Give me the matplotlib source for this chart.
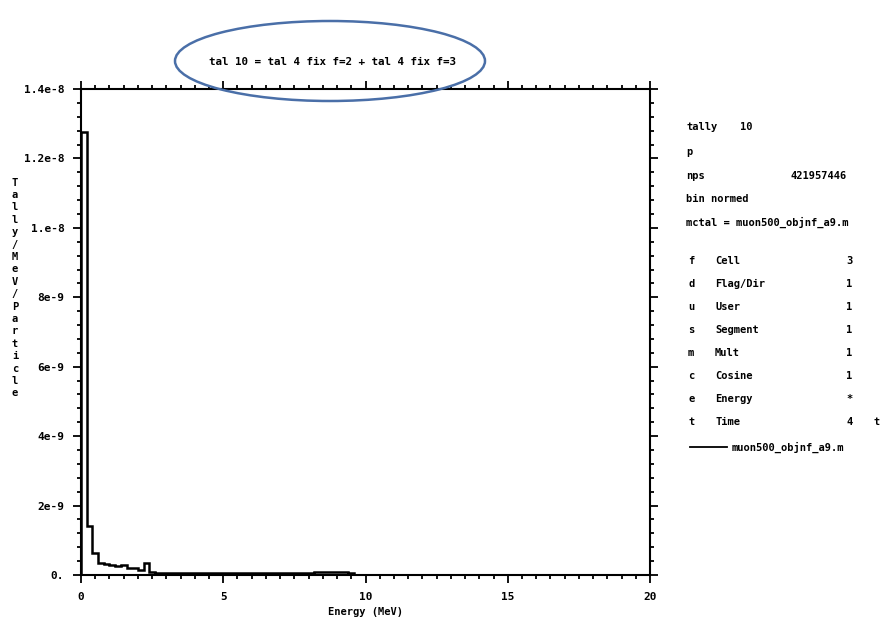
import matplotlib
matplotlib.use("Agg")
import matplotlib.pyplot as plt
from matplotlib.patches import Ellipse
from matplotlib.ticker import MultipleLocator, FixedLocator, FixedFormatter

# tally 10 energy spectrum, 0.2 MeV bins (Tally/MeV/Particle)
bin_edges = [0.0, 0.2, 0.4, 0.6, 0.8, 1.0, 1.2, 1.4, 1.6, 1.8, 2.0, 2.2, 2.4,
             2.6, 4.0, 6.0, 8.2, 9.4, 9.6]
tally = [12.75e-9, 1.42e-9, 0.64e-9, 0.36e-9, 0.33e-9, 0.30e-9, 0.27e-9,
         0.30e-9, 0.19e-9, 0.20e-9, 0.15e-9, 0.35e-9, 0.08e-9,
         0.05e-9, 0.05e-9, 0.05e-9, 0.08e-9, 0.06e-9]

y_ticks = [0, 2e-9, 4e-9, 6e-9, 8e-9, 1e-8, 1.2e-8, 1.4e-8]
y_tick_labels = ["0.", "2e-9", "4e-9", "6e-9", "8e-9", "1.e-8", "1.2e-8", "1.4e-8"]
x_ticks = [0, 5, 10, 15, 20]

title = "tal 10 = tal 4 fix f=2 + tal 4 fix f=3"
ylabel = "Tally/MeV/Particle"
info_lines = [("tally", "10", 127), ("p", "", 152), ("nps", "421957446", 176),
              ("bin normed", "", 199), ("mctal = muon500_objnf_a9.m", "", 222)]
bins_table = [("f", "Cell", "3"), ("d", "Flag/Dir", "1"), ("u", "User", "1"),
              ("s", "Segment", "1"), ("m", "Mult", "1"), ("c", "Cosine", "1"),
              ("e", "Energy", "*"), ("t", "Time", "4")]
legend_label = "muon500_objnf_a9.m"

W, H = 880, 620
FONT = "DejaVu Sans Mono"
fig = plt.figure(figsize=(W / 100, H / 100), dpi=100)
fig.patch.set_facecolor("white")

def fx(px):
    return px / W

def fy(py):
    return 1 - py / H

ax = fig.add_axes([fx(81), fy(575), fx(650) - fx(81), fy(89) - fy(575)])
ax.stairs(tally, bin_edges, color="black", linewidth=1.8, baseline=0)
ax.set_xlim(0, 20)
ax.set_ylim(0, 1.4e-8)

for s in ax.spines.values():
    s.set_linewidth(1.5)

ax.xaxis.set_major_locator(FixedLocator(x_ticks))
ax.xaxis.set_minor_locator(MultipleLocator(0.5))
ax.yaxis.set_major_locator(FixedLocator(y_ticks))
ax.yaxis.set_major_formatter(FixedFormatter(y_tick_labels))
ax.yaxis.set_minor_locator(MultipleLocator(4e-10))
ax.tick_params(which="both", direction="out", top=True, right=True,
               labeltop=False, labelright=False, width=1.3)
ax.tick_params(which="major", length=6, labelsize=8, pad=6)
ax.tick_params(which="minor", length=3)
for lab in ax.get_xticklabels() + ax.get_yticklabels():
    lab.set_fontfamily(FONT)
    lab.set_fontweight("bold")

ax.set_xlabel("Energy (MeV)", fontsize=7.5, fontfamily=FONT, fontweight="bold", labelpad=4)

# vertical stacked y label
fig.text(fx(15), fy(288), "\n".join(ylabel), fontsize=7.5, fontfamily=FONT,
         fontweight="bold", ha="center", va="center", linespacing=1.3)

fig.text(fx(332), fy(62), title, fontsize=7.8, fontfamily=FONT,
         fontweight="bold", ha="center", va="center")
fig.add_artist(Ellipse((fx(330), fy(61)), fx(310), 80 / H, transform=fig.transFigure,
                       fill=False, edgecolor="#4a6fa8", linewidth=1.8, zorder=5))

# side panel
FS = 7.5
for left, right, py in info_lines:
    fig.text(fx(686), fy(py), left, fontsize=FS, fontfamily=FONT,
             fontweight="bold", va="center")
    if right:
        xr = 740 if left == "tally" else 790
        fig.text(fx(xr), fy(py), right, fontsize=FS, fontfamily=FONT,
                 fontweight="bold", va="center")

for i, (code, name, val) in enumerate(bins_table):
    py = 261 + i * 23
    fig.text(fx(688), fy(py), code, fontsize=FS, fontfamily=FONT, fontweight="bold", va="center")
    fig.text(fx(715), fy(py), name, fontsize=FS, fontfamily=FONT, fontweight="bold", va="center")
    fig.text(fx(846), fy(py), val, fontsize=FS, fontfamily=FONT, fontweight="bold", va="center")
fig.text(fx(873), fy(422), "t", fontsize=FS, fontfamily=FONT, fontweight="bold", va="center")

fig.add_artist(plt.Line2D([fx(690), fx(727)], [fy(447), fy(447)], color="black",
                          linewidth=1.3, transform=fig.transFigure))
fig.text(fx(732), fy(447), legend_label, fontsize=FS, fontfamily=FONT,
         fontweight="bold", va="center")

fig.savefig("out.png", dpi=100)
